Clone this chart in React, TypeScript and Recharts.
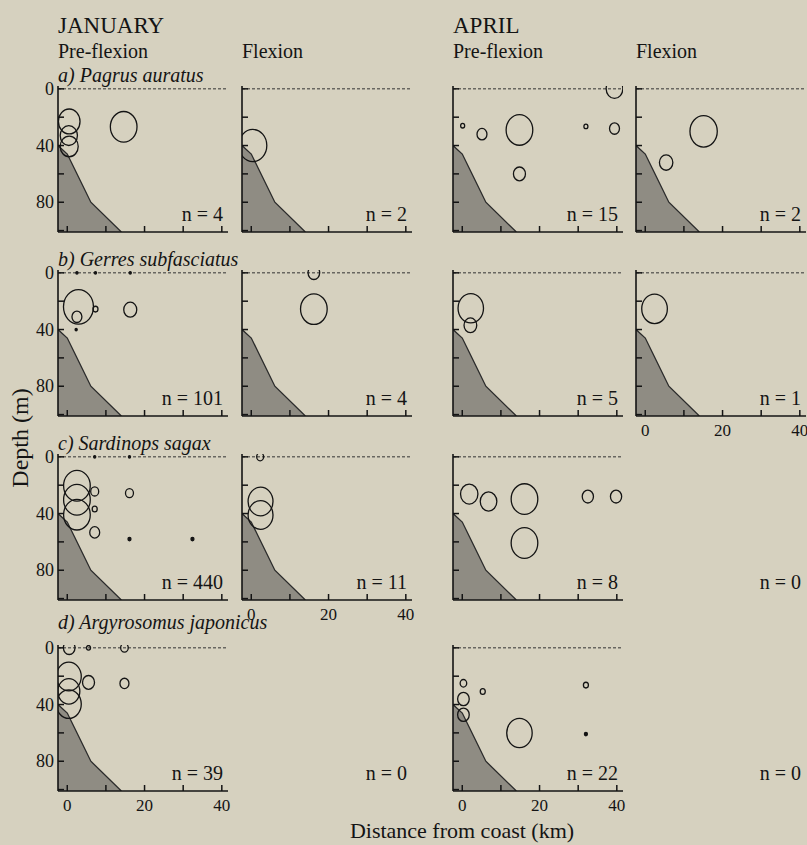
import React from 'react'
import { ComposedChart, Area, Scatter, XAxis, YAxis, ZAxis, ReferenceLine } from 'recharts'

// bathymetry profile (distance km, depth m), same shelf in every panel
const bathyKm = [-2.4, 0, 1.8, 6.1, 14]
const bathyDepth = [40, 46, 56, 80, 101]

// larval density per station: distance (km), depth (m), relative density
const janPreA = [
  { x: 0.5, depth: 23, n: 52 },
  { x: 0.4, depth: 33, n: 33 },
  { x: 0.5, depth: 40.6, n: 36 },
  { x: 14.6, depth: 26.8, n: 79 },
]
const janFlexA = [{ x: 0.4, depth: 40, n: 87 }]
const aprPreA = [
  { x: 0.1, depth: 26, n: 1.8 },
  { x: 5.1, depth: 32, n: 11 },
  { x: 14.8, depth: 29, n: 79 },
  { x: 14.8, depth: 60, n: 16 },
  { x: 32, depth: 26.5, n: 1.8 },
  { x: 39.4, depth: 0, n: 31 },
  { x: 39.4, depth: 28, n: 11 },
]
const aprFlexA = [
  { x: 15.1, depth: 30, n: 83 },
  { x: 5.4, depth: 52, n: 20 },
]

const janPreB = [
  { x: 2.9, depth: 24, n: 100 },
  { x: 2.5, depth: 31, n: 11 },
  { x: 7.3, depth: 25.6, n: 2.8 },
  { x: 2.3, depth: 40, n: 0.5 },
  { x: 16.3, depth: 26, n: 18.8 },
  { x: 2.5, depth: 0, n: 0.5 },
  { x: 7.3, depth: 0, n: 0.5 },
  { x: 16.3, depth: 0, n: 0.5 },
]
const janFlexB = [
  { x: 16.2, depth: 0, n: 15 },
  { x: 16.2, depth: 25.6, n: 79 },
]
const aprPreB = [
  { x: 2.2, depth: 25, n: 72 },
  { x: 2.1, depth: 37, n: 18 },
]
const aprFlexB = [{ x: 2.4, depth: 25.4, n: 73 }]

const janPreC = [
  { x: 2.5, depth: 20.4, n: 79 },
  { x: 2.5, depth: 30.3, n: 79 },
  { x: 2.5, depth: 40.8, n: 79 },
  { x: 7.1, depth: 24.4, n: 7.1 },
  { x: 7.1, depth: 36.8, n: 2.8 },
  { x: 7.1, depth: 53.3, n: 11 },
  { x: 16.1, depth: 25.6, n: 7.1 },
  { x: 16.1, depth: 58, n: 1 },
  { x: 32.4, depth: 58, n: 1 },
  { x: 7.1, depth: 0, n: 0.5 },
  { x: 16.1, depth: 0, n: 0.5 },
]
const janFlexC = [
  { x: 2.3, depth: 0, n: 5.4 },
  { x: 2.4, depth: 31.5, n: 69 },
  { x: 2.4, depth: 41, n: 69 },
]
const aprPreC = [
  { x: 1.8, depth: 26.3, n: 33.6 },
  { x: 6.8, depth: 31.5, n: 30.6 },
  { x: 16.1, depth: 29.8, n: 79 },
  { x: 16.1, depth: 60.8, n: 79 },
  { x: 32.5, depth: 28, n: 14 },
  { x: 39.8, depth: 28, n: 14 },
]

const janPreD = [
  { x: 0.5, depth: 0, n: 15 },
  { x: 5.5, depth: 0, n: 1.8 },
  { x: 14.8, depth: 0, n: 6.4 },
  { x: 0.4, depth: 20.2, n: 69 },
  { x: 0.4, depth: 30.7, n: 54 },
  { x: 0.4, depth: 39.7, n: 69 },
  { x: 5.5, depth: 24.4, n: 16 },
  { x: 14.8, depth: 25.1, n: 9 },
]
const aprPreD = [
  { x: 0.3, depth: 25, n: 4.8 },
  { x: 0.3, depth: 36.1, n: 15 },
  { x: 0.3, depth: 47.2, n: 15 },
  { x: 5.3, depth: 30.8, n: 2.8 },
  { x: 32, depth: 26.3, n: 2.8 },
  { x: 32, depth: 60.8, n: 1 },
  { x: 14.8, depth: 60.1, n: 72 },
]

const sampleSizes = [
  [4, 2, 15, 2],
  [101, 4, 5, 1],
  [440, 11, 8, 0],
  [39, 0, 22, 0],
]
const speciesTitles = ['a) Pagrus auratus', 'b) Gerres subfasciatus', 'c) Sardinops sagax', 'd) Argyrosomus japonicus']
const months = ['JANUARY', 'APRIL']
const stages = ['Pre-flexion', 'Flexion']
const xTicks = [0, 10, 20, 30, 40]
const yTicks = [0, 20, 40, 60, 80, 100]

const bathymetry = bathyKm.map((x, i) => ({ x, depth: bathyDepth[i] }))

// layout
const FONT = "'Liberation Serif', 'DejaVu Serif', serif"
const INK = '#141414'
const COL_LEFT = [58, 242, 453, 636]
const ROW_ZERO = [89, 273, 457, 648]
const PLOT_W = 170
const PLOT_H = 146
const Y_DOMAIN = [-2, 101]
const PX_PER_M = PLOT_H / (Y_DOMAIN[1] - Y_DOMAIN[0])
const YW = 40
const XH = 34
const MT = 14
const MR = 6

function Bubble(props: any) {
  const { cx, cy } = props
  const r = props.width ? props.width / 2 : Math.sqrt((props.size || 0) / Math.PI)
  return (
    <ellipse
      cx={cx}
      cy={cy}
      rx={r}
      ry={r * 1.15}
      fill={r < 1.7 ? INK : 'none'}
      stroke={INK}
      strokeWidth={1.3}
    />
  )
}

// ticks point inward, labels only on outer panels
function XTick({ x, y, payload, show }: any) {
  return (
    <g>
      <line x1={x} x2={x} y1={y} y2={y - 6} stroke={INK} strokeWidth={1.5} />
      {show && payload.value % 20 === 0 && (
        <text x={x} y={y + 20} textAnchor="middle" fontSize={17} fontFamily={FONT} fill={INK}>
          {payload.value}
        </text>
      )}
    </g>
  )
}

function YTick({ x, y, payload, show }: any) {
  return (
    <g>
      <line x1={x} x2={x + 6} y1={y} y2={y} stroke={INK} strokeWidth={1.5} />
      {show && payload.value % 40 === 0 && payload.value < 100 && (
        <text x={x - 4} y={y + 6} textAnchor="end" fontSize={18} fontFamily={FONT} fill={INK}>
          {payload.value}
        </text>
      )}
    </g>
  )
}

function Panel({ col, row, points, yLabels, xLabels }: any) {
  const plotTop = ROW_ZERO[row] + Y_DOMAIN[0] * PX_PER_M
  return (
    <div style={{ position: 'absolute', left: COL_LEFT[col] - YW, top: plotTop - MT }}>
      <ComposedChart
        width={YW + PLOT_W + MR}
        height={MT + PLOT_H + XH}
        data={bathymetry}
        margin={{ top: MT, right: MR, bottom: 0, left: 0 }}
      >
        <XAxis
          type="number"
          dataKey="x"
          domain={[-2.4, 41.6]}
          allowDataOverflow
          ticks={xTicks}
          interval={0}
          height={XH}
          tickSize={0}
          tickMargin={0}
          tickLine={false}
          axisLine={{ stroke: INK, strokeWidth: 1.6 }}
          tick={(p: any) => <XTick {...p} show={xLabels} />}
        />
        <YAxis
          type="number"
          dataKey="depth"
          reversed
          domain={Y_DOMAIN}
          allowDataOverflow
          ticks={yTicks}
          interval={0}
          width={YW}
          tickSize={0}
          tickMargin={0}
          tickLine={false}
          axisLine={{ stroke: INK, strokeWidth: 1.6 }}
          tick={(p: any) => <YTick {...p} show={yLabels} />}
        />
        <ZAxis type="number" dataKey="n" domain={[0, 100]} range={[0, Math.PI * 2.25 * 100]} />
        <ReferenceLine y={0} stroke="#333" strokeWidth={1} strokeDasharray="3 2" />
        <Area
          type="linear"
          dataKey="depth"
          baseValue={101}
          fill="#8f8c83"
          fillOpacity={1}
          stroke="#2b2b2b"
          strokeWidth={1.3}
          isAnimationActive={false}
        />
        <Scatter data={points} shape={Bubble} isAnimationActive={false} />
      </ComposedChart>
    </div>
  )
}

const panels = [
  { col: 0, row: 0, points: janPreA, yLabels: true },
  { col: 1, row: 0, points: janFlexA },
  { col: 2, row: 0, points: aprPreA },
  { col: 3, row: 0, points: aprFlexA },
  { col: 0, row: 1, points: janPreB, yLabels: true },
  { col: 1, row: 1, points: janFlexB },
  { col: 2, row: 1, points: aprPreB },
  { col: 3, row: 1, points: aprFlexB, xLabels: true },
  { col: 0, row: 2, points: janPreC, yLabels: true },
  { col: 1, row: 2, points: janFlexC, xLabels: true },
  { col: 2, row: 2, points: aprPreC },
  { col: 0, row: 3, points: janPreD, yLabels: true, xLabels: true },
  { col: 2, row: 3, points: aprPreD, xLabels: true },
]

export default function App() {
  return (
    <div style={{ position: 'absolute', left: 0, top: 0, width: 807, height: 845, background: '#d6d1bf', overflow: 'hidden' }}>
      {panels.map((p, i) => (
        <Panel key={i} {...p} />
      ))}
      <svg width={807} height={845} style={{ position: 'absolute', left: 0, top: 0, pointerEvents: 'none' }} fontFamily={FONT} fill={INK}>
        {months.map((m, i) => (
          <text key={m} x={COL_LEFT[i * 2]} y={33} fontSize={23}>{m}</text>
        ))}
        {COL_LEFT.map((x, i) => (
          <text key={i} x={x} y={58} fontSize={20}>{stages[i % 2]}</text>
        ))}
        {speciesTitles.map((t, r) => (
          <text key={t} x={58} y={r === 3 ? 629 : ROW_ZERO[r] - 7} fontSize={20} fontStyle="italic">{t}</text>
        ))}
        {sampleSizes.map((rowN, r) =>
          rowN.map((n, c) => (
            <text
              key={r + '-' + c}
              x={COL_LEFT[c] + PLOT_W - 5}
              y={ROW_ZERO[r] + Y_DOMAIN[1] * PX_PER_M - 11}
              fontSize={20}
              textAnchor="end"
            >
              {'n = ' + n}
            </text>
          ))
        )}
        <text x={22} y={438} fontSize={24} textAnchor="middle" dominantBaseline="middle" transform="rotate(-90 22 438)">
          Depth (m)
        </text>
        <text x={462} y={838} fontSize={22} textAnchor="middle">Distance from coast (km)</text>
      </svg>
    </div>
  )
}
